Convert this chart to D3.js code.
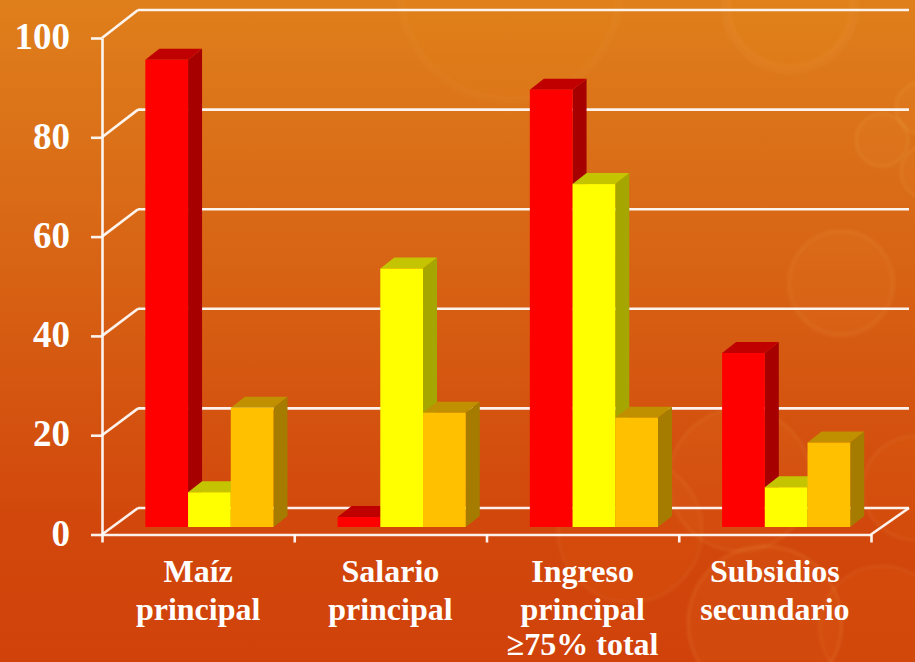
<!DOCTYPE html>
<html><head><meta charset="utf-8">
<script src="https://cdnjs.cloudflare.com/ajax/libs/d3/7.8.5/d3.min.js"></script>
<style>html,body{margin:0;padding:0;overflow:hidden;background:#d0420a}svg{display:block}text{font-family:"Liberation Serif",serif;font-weight:bold;fill:#fff}</style>
</head><body><svg id="c" width="915" height="662"></svg>
<script>
const categories = [["Maíz","principal"],["Salario","principal"],["Ingreso","principal","≥75% total"],["Subsidios","secundario"]];
const seriesRed = [94, 2, 88, 35];
const seriesYellow = [7, 52, 69, 8];
const seriesOrange = [24, 23, 22, 17];
const yTicks = [0, 20, 40, 60, 80, 100];
const palette = [
  {values: seriesRed, front:"#ff0000", top:"#c00000", side:"#a60000"},
  {values: seriesYellow, front:"#ffff00", top:"#c4c400", side:"#a6a600"},
  {values: seriesOrange, front:"#ffc000", top:"#c09000", side:"#a67c00"}
];
const rings = [[510,-10,110,.02,8],[790,5,64,.035,10],[841,283,52,.04,5],[882,140,26,.045,4],[922,108,26,.045,4],[928,172,27,.045,4],[740,480,71,.04,4],[765,623,77,.05,4],[882,628,62,.035,4],[915,488,52,.035,4],[630,530,72,.035,4]];

const svg = d3.select("#c");
const defs = svg.append("defs");
const g = defs.append("linearGradient").attr("id","bg").attr("x1",0).attr("y1",0).attr("x2",0).attr("y2",1);
[[0,"#df7f1b"],[.25,"#da6e18"],[.5,"#d65c12"],[.78,"#d2480c"],[1,"#d0420a"]].forEach(s=>g.append("stop").attr("offset",s[0]).attr("stop-color",s[1]));
defs.append("filter").attr("id","soft").attr("x","-20%").attr("y","-20%").attr("width","140%").attr("height","140%")
  .append("feGaussianBlur").attr("stdDeviation",1.3);
svg.append("rect").attr("width",915).attr("height",662).attr("fill","url(#bg)");

svg.append("g").attr("filter","url(#soft)").selectAll("circle").data(rings).join("circle")
  .attr("cx",d=>d[0]).attr("cy",d=>d[1]).attr("r",d=>d[2])
  .attr("fill","#ffc040").attr("fill-opacity",d=>d[3])
  .attr("stroke","#ffd080").attr("stroke-opacity",d=>d[3]*1.6).attr("stroke-width",d=>d[4]);

const names = categories.map((c,i)=>i);
const xAxisScale = d3.scaleBand().domain(names).range([102,871]).paddingInner(1/3).paddingOuter(1/6);
const xTickScale = d3.scaleLinear().domain([0,4]).range([102,871]);
const yAxisScale = d3.scaleLinear().domain([0,100]).range([534.5,38]);
const yBack = d3.scaleLinear().domain([0,100]).range([508,10]);
const yBar = d3.scaleLinear().domain([0,100]).range([527,30]);
const backX0 = 138, backX1 = 909;
const depthX = 14, depthY = 11, barShift = 11.3;
const inner = d3.scaleBand().domain([0,1,2]).range([0,xAxisScale.bandwidth()]);

const lineStyle = s => s.attr("stroke","#fff").attr("stroke-width",2.6).attr("stroke-opacity",.92).attr("fill","none");

svg.append("g").selectAll("line").data(yTicks).join("line")
  .attr("x1",backX0).attr("x2",backX1).attr("y1",d=>yBack(d)).attr("y2",d=>yBack(d)).call(lineStyle);
svg.append("g").selectAll("line").data(yTicks).join("line")
  .attr("x1",102).attr("x2",backX0).attr("y1",d=>yAxisScale(d)).attr("y2",d=>yBack(d)).call(lineStyle);
svg.append("line").attr("x1",xTickScale(4)).attr("y1",yAxisScale(0)).attr("x2",backX1).attr("y2",yBack(0)).call(lineStyle);

const yAxis = svg.append("g").attr("transform","translate(102,0)")
  .call(d3.axisLeft(yAxisScale).tickValues(yTicks).tickSize(11).tickPadding(21).tickSizeOuter(0));
yAxis.selectAll("path,line").call(lineStyle);
yAxis.selectAll("text").attr("font-size",37).attr("font-family","Liberation Serif").attr("dy","0.29em").attr("fill","#fff");

const xAxis = svg.append("g").attr("transform","translate(0,534.5)")
  .call(d3.axisBottom(xTickScale).tickValues([0,1,2,3,4]).tickSize(8).tickSizeOuter(0).tickFormat(""));
xAxis.selectAll("path,line").call(lineStyle);

const groups = svg.append("g").selectAll("g").data(names).join("g");
groups.each(function(ci){
  const gr = d3.select(this);
  palette.forEach((s,si)=>{
    const v = s.values[ci];
    const x0 = xAxisScale(ci)+barShift+inner(si), x1 = x0+inner.bandwidth();
    const yT = yBar(v), yB = yBar(0);
    gr.append("polygon").attr("fill",s.side)
      .attr("points",[[x1,yT],[x1+depthX,yT-depthY],[x1+depthX,yB-depthY],[x1,yB]].join(" "));
    gr.append("polygon").attr("fill",s.top)
      .attr("points",[[x0,yT],[x0+depthX,yT-depthY],[x1+depthX,yT-depthY],[x1,yT]].join(" "));
    gr.append("rect").attr("x",x0).attr("y",yT).attr("width",x1-x0).attr("height",yB-yT).attr("fill",s.front);
  });
});

const lineY = [582, 619.5, 655];
svg.append("g").selectAll("text").data(categories).join("text")
  .attr("text-anchor","middle").attr("font-size",32)
  .each(function(lines,i){
    const cx = xAxisScale(i)+xAxisScale.bandwidth()/2;
    d3.select(this).selectAll("tspan").data(lines).join("tspan")
      .attr("x",cx).attr("y",(d,j)=>lineY[j]).text(d=>d);
  });
</script></body></html>
